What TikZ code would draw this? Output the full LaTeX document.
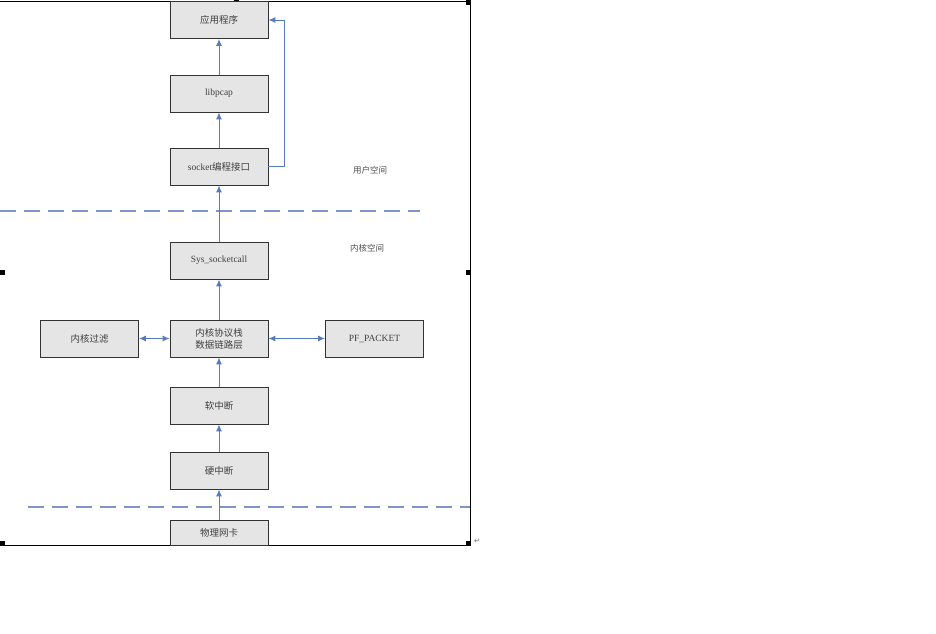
\documentclass[tikz,border=0pt]{standalone}
\usepackage{fontspec}
\setmainfont{Liberation Serif}
\newfontfamily\cjk{Noto Sans CJK SC}
\newfontfamily\symfont{DejaVu Sans}
\usetikzlibrary{arrows.meta}
\definecolor{linkblue}{RGB}{88,122,190}
\definecolor{dashblue}{RGB}{125,150,200}

\begin{document}
\begin{tikzpicture}[x=1pt, y=-1pt,
        box/.style={draw=black!80, line width=0.9pt, fill=black!10, minimum width=98pt, minimum height=37pt, inner sep=1pt, font=\fontsize{9.5}{12}\selectfont, text=black!75},
        link/.style={draw=linkblue, line width=1pt, -{Latex[length=7pt,width=6pt]}},
        twoway/.style={link, {Latex[length=7pt,width=6pt]}-{Latex[length=7pt,width=6pt]}},
        border/.style={draw=black, line width=0.8pt},
        handle/.style={fill=black},
        divide/.style={draw=dashblue, line width=1.2pt, dash pattern=on 16pt off 8pt}]
        \useasboundingbox (0,0) rectangle (936,633);

        % frame of the picture
        \draw[border] (0,1) -- (470,1) -- (470,545) -- (0,545);
        \foreach \hx/\hy in {236/2, 468/2, 2/272, 468/272, 2/543, 236/543, 468/543}
            \fill[handle] (\hx-2.5,\hy-2.5) rectangle (\hx+2.5,\hy+2.5);
        \node[font=\symfont\fontsize{7}{8}\selectfont, text=black!60] (mark) at (477,541) {↵};

        % user / kernel boundaries
        \draw[divide] (0,211) -- (420,211);
        \draw[divide] (28,507) -- (470,507);
        \node[font=\cjk\fontsize{8.5}{10}\selectfont, text=black!70] (user) at (370,170) {用户空间};
        \node[font=\cjk\fontsize{8.5}{10}\selectfont, text=black!70] (kernel) at (367,248) {内核空间};

        \node[box] (app) at (219,20) {\cjk 应用程序};
        \node[box] (pcap) at (219,93.5) {libpcap};
        \node[box] (sock) at (219,166.5) {socket{\cjk 编程接口}};
        \node[box] (sys) at (219,260.5) {Sys\_socketcall};
        \node[box, align=center] (stack) at (219,338.5) {\cjk 内核协议栈\\\cjk 数据链路层};
        \node[box] (filter) at (89.5,338.5) {\cjk 内核过滤};
        \node[box] (pf) at (374.5,338.5) {PF\_PACKET};
        \node[box] (soft) at (219,405.5) {\cjk 软中断};
        \node[box] (hard) at (219,470.5) {\cjk 硬中断};
        \node[box, minimum height=25pt] (nic) at (219,532.5) {\cjk 物理网卡};

        \draw[link] (nic) -- (hard);
        \draw[link] (hard) -- (soft);
        \draw[link] (soft) -- (stack);
        \draw[link] (stack) -- (sys);
        \draw[link] (sys) -- (sock);
        \draw[link] (sock) -- (pcap);
        \draw[link] (pcap) -- (app);
        \draw[link] (sock.east) -- ++(16,0) |- (app.east);
        \draw[twoway] (filter) -- (stack);
        \draw[twoway] (stack) -- (pf);
    \end{tikzpicture}
\end{document}
